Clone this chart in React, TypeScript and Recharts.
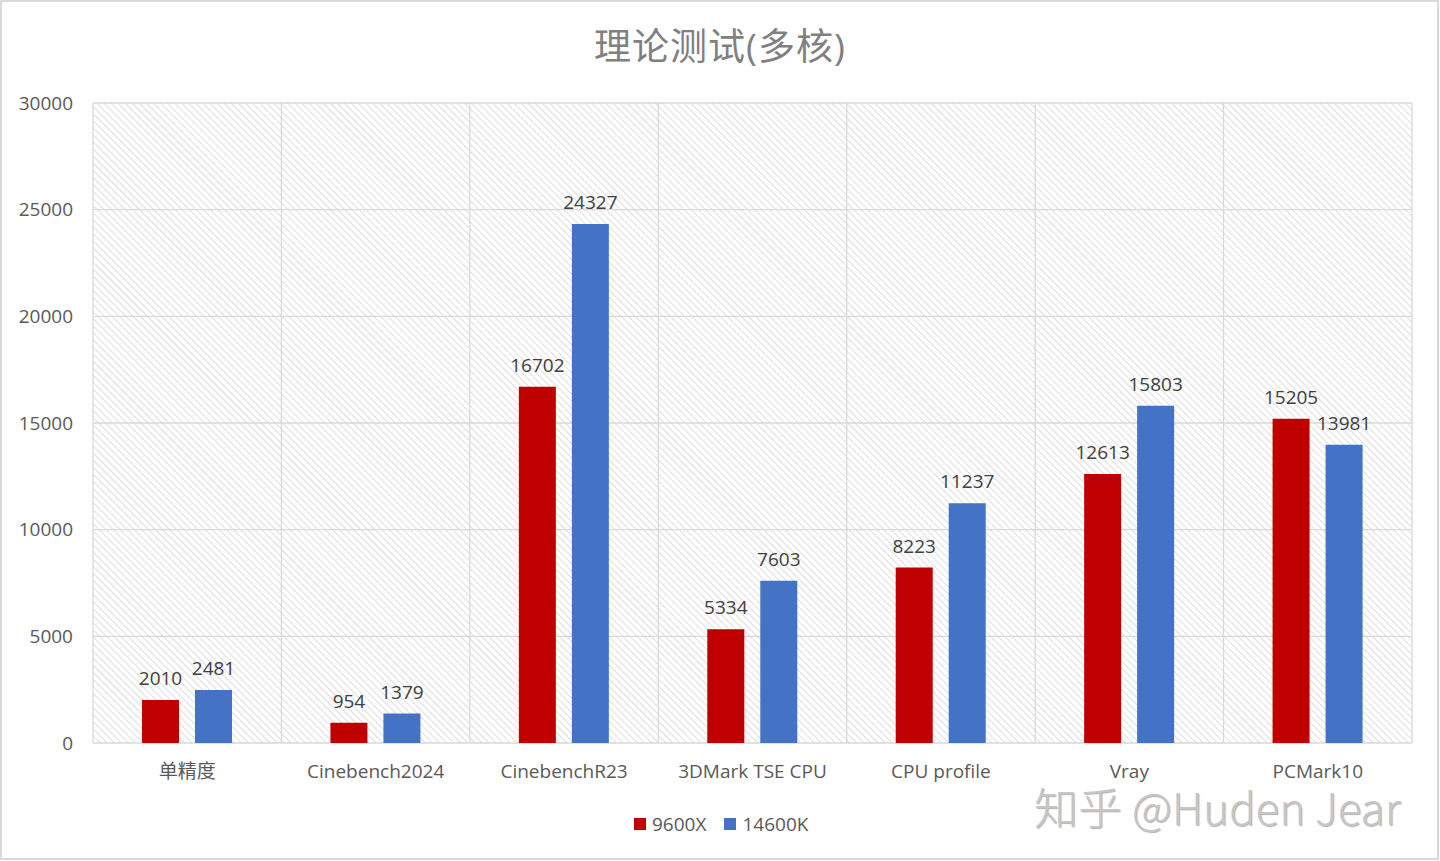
import { Bar, BarChart, CartesianGrid, LabelList, XAxis, YAxis } from "recharts";

const categories = ["单精度", "Cinebench2024", "CinebenchR23", "3DMark TSE CPU", "CPU profile", "Vray", "PCMark10"];
const r9600x = [2010, 954, 16702, 5334, 8223, 12613, 15205];
const i14600k = [2481, 1379, 24327, 7603, 11237, 15803, 13981];
const yTicks = [0, 5000, 10000, 15000, 20000, 25000, 30000];

const data = categories.map((name, i) => ({ name, "9600X": r9600x[i], "14600K": i14600k[i] }));

const FONT = "'Open Sans', 'Noto Sans CJK SC', sans-serif";
const RED = "#C00000";
const BLUE = "#4472C4";

// grid lines on the category boundaries, like Excel
const boundaryLines = ({ offset }: any) =>
  categories.map((_, i) => offset.left + (i * offset.width) / categories.length).concat(offset.left + offset.width);

export default function App() {
  return (
    <div style={{ position: "absolute", left: 0, top: 0, width: 1440, height: 861, background: "#fff", fontFamily: FONT }}>
      <div
        style={{
          position: "absolute",
          left: 0,
          top: 0,
          width: 1435,
          height: 856,
          border: "2px solid #d9d9d9",
        }}
      />
      <div
        style={{
          position: "absolute",
          left: 0,
          width: 1440,
          top: 22,
          textAlign: "center",
          fontSize: 37,
          letterSpacing: 1,
          color: "#808080",
          lineHeight: "48px",
        }}
      >
        理论测试(多核)
      </div>
      <BarChart
        width={1440}
        height={861}
        data={data}
        margin={{ top: 103, right: 28, left: 0, bottom: 78 }}
        barSize={37}
        barGap={16}
        style={{ position: "absolute", left: 0, top: 0 }}
      >
        <defs>
          <pattern id="hatch" width="5" height="5" patternUnits="userSpaceOnUse" patternTransform="rotate(-45)">
            <line x1="0" y1="0" x2="0" y2="5" stroke="#d6d6d6" strokeWidth="1.6" />
          </pattern>
        </defs>
        <CartesianGrid
          stroke="#d9d9d9"
          strokeWidth={1.3}
          fill="url(#hatch)"
          fillOpacity={1}
          verticalCoordinatesGenerator={boundaryLines}
        />
        <XAxis
          dataKey="name"
          height={40}
          axisLine={false}
          tickLine={false}
          tickSize={0}
          tickMargin={22}
          tick={{ fontSize: 19, fill: "#595959", fontFamily: FONT }}
          interval={0}
        />
        <YAxis
          width={93}
          domain={[0, 30000]}
          ticks={yTicks}
          axisLine={false}
          tickLine={false}
          tickSize={0}
          tickMargin={20}
          tick={{ fontSize: 19, fill: "#595959", fontFamily: FONT }}
        />
        <Bar dataKey="9600X" fill={RED} isAnimationActive={false}>
          <LabelList dataKey="9600X" position="top" offset={15} style={{ fontSize: 19, fill: "#404040", fontFamily: FONT }} />
        </Bar>
        <Bar dataKey="14600K" fill={BLUE} isAnimationActive={false}>
          <LabelList dataKey="14600K" position="top" offset={15} style={{ fontSize: 19, fill: "#404040", fontFamily: FONT }} />
        </Bar>
      </BarChart>
      <div
        style={{
          position: "absolute",
          left: 634,
          top: 812,
          display: "flex",
          alignItems: "center",
          fontSize: 19,
          color: "#595959",
          lineHeight: "24px",
        }}
      >
        <span style={{ width: 12, height: 12, background: RED, marginRight: 6 }} />
        <span style={{ marginRight: 18 }}>9600X</span>
        <span style={{ width: 12, height: 12, background: BLUE, marginRight: 6 }} />
        <span>14600K</span>
      </div>
      <div
        style={{
          position: "absolute",
          left: 1034,
          top: 788,
          fontSize: 44,
          lineHeight: "36px",
          color: "#c6c6c6",
          textShadow: "1px 1px 1px rgba(0,0,0,0.3)",
          fontFamily: "'Noto Sans CJK SC', 'Open Sans', sans-serif",
          fontWeight: 300,
          whiteSpace: "nowrap",
        }}
      >
        知乎 @Huden Jear
      </div>
    </div>
  );
}
